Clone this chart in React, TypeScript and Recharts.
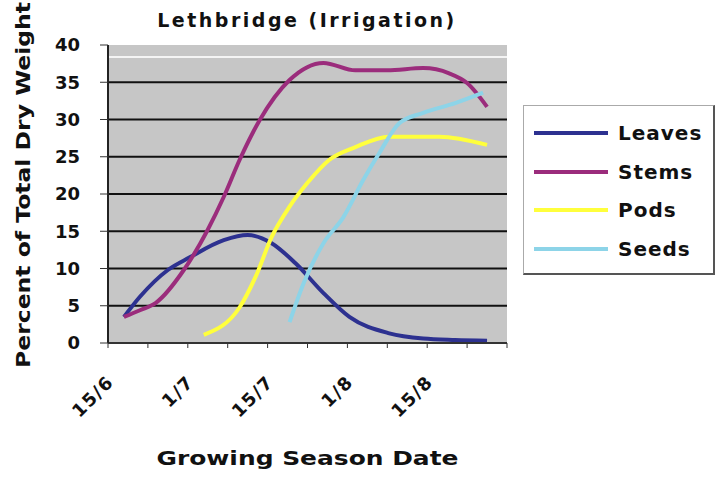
import React from 'react';
import {
	LineChart,
	Line,
	XAxis,
	YAxis,
	CartesianGrid,
	ReferenceLine,
} from 'recharts';

// axis setup
const dateLabels = ['15/6', '1/7', '15/7', '1/8', '15/8'];
const xTicks = [0, 1, 2, 3, 4, 5, 6, 7, 8, 9, 10];
const yTicks = [0, 5, 10, 15, 20, 25, 30, 35, 40];
const gridLevels = [5, 10, 15, 20, 25, 30, 35];
const upperMark = 38.4;

// percent of total dry weight, by position along the season axis
const leavesX = [0.4, 0.8, 1.5, 2.05, 2.9, 3.5, 4.1, 4.7, 5.4, 6.05, 7.05, 7.9, 8.7, 9.5];
const leavesPct = [3.5, 6.2, 9.8, 11.5, 13.8, 14.5, 13.4, 10.7, 6.7, 3.5, 1.3, 0.6, 0.4, 0.3];

const stemsX = [0.4, 0.8, 1.2, 1.9, 2.5, 2.9, 3.3, 3.8, 4.55, 5.4, 6.2, 7.0, 7.9, 8.55, 9.0, 9.5];
const stemsPct = [3.5, 4.4, 5.4, 9.8, 15.2, 19.6, 24.6, 29.9, 35.3, 37.6, 36.6, 36.6, 36.9, 36.2, 34.9, 31.7];

const podsX = [2.4, 3.3, 3.7, 4.1, 4.55, 5.0, 5.55, 6.2, 7.05, 8.3, 9.5];
const podsPct = [1.1, 4.8, 8.9, 14.2, 18.3, 21.5, 24.6, 26.3, 27.7, 27.7, 26.6];

const seedsX = [4.55, 4.9, 5.4, 5.9, 6.4, 6.8, 7.3, 7.9, 8.7, 9.4];
const seedsPct = [2.8, 8.0, 13.4, 16.9, 21.9, 25.5, 29.5, 30.9, 32.2, 33.6];

const zip = (xs: number[], ys: number[]) => xs.map((x, i) => ({ x, v: ys[i] }));

const series = [
	{ name: 'Leaves', color: '#2d3190', data: zip(leavesX, leavesPct) },
	{ name: 'Stems', color: '#9b2c7c', data: zip(stemsX, stemsPct) },
	{ name: 'Pods', color: '#ffff3c', data: zip(podsX, podsPct) },
	{ name: 'Seeds', color: '#8dd4e8', data: zip(seedsX, seedsPct) },
];

const FONT = 'DejaVu Sans';

const XTick = (props: any) => {
	const { x, y, payload } = props;
	const idx = payload.value / 2;
	if (!Number.isInteger(idx) || !dateLabels[idx]) return null;
	return (
		<text
			transform={`translate(${x + 7},${y + 35}) rotate(-45)`}
			textAnchor='end'
			fontFamily={FONT}
			fontWeight={700}
			fontSize={18}
			letterSpacing={1.5}
			fill='#111'
		>
			{dateLabels[idx]}
		</text>
	);
};

const YTitle = (props: any) => {
	const { viewBox } = props;
	const cx = 30;
	const cy = viewBox.y + viewBox.height / 2 - 9;
	return (
		<text
			x={cx}
			y={cy}
			transform={`rotate(-90, ${cx}, ${cy})`}
			textAnchor='middle'
			fontFamily={FONT}
			fontWeight={700}
			fontSize={19}
			textLength={366}
			lengthAdjust='spacingAndGlyphs'
			fill='#111'
		>
			Percent of Total Dry Weight
		</text>
	);
};

const XTitle = (props: any) => {
	const { viewBox } = props;
	return (
		<text
			x={viewBox.x + viewBox.width / 2}
			y={viewBox.y + 122}
			textAnchor='middle'
			fontFamily={FONT}
			fontWeight={700}
			fontSize={19}
			textLength={302}
			lengthAdjust='spacingAndGlyphs'
			fill='#111'
		>
			Growing Season Date
		</text>
	);
};

const App = () => {
	return (
		<div style={{ position: 'absolute', left: 0, top: 0, width: 720, height: 482, background: '#fff' }}>
			<div
				style={{
					position: 'absolute',
					left: 0,
					top: 9,
					width: 614,
					textAlign: 'center',
					fontFamily: FONT,
					fontWeight: 700,
					fontSize: 19,
					lineHeight: '22px',
					letterSpacing: 2.5,
					color: '#111',
				}}
			>
				Lethbridge (Irrigation)
			</div>
			<LineChart width={720} height={482} margin={{ top: 45, right: 213, bottom: 0, left: 0 }}>
				<CartesianGrid
					vertical={false}
					horizontalValues={gridLevels}
					stroke='#111'
					strokeWidth={2}
					fill='#c6c6c6'
					fillOpacity={1}
				/>
				<XAxis
					dataKey='x'
					type='number'
					domain={[0, 10]}
					ticks={xTicks}
					interval={0}
					height={139}
					tickSize={5}
					tickMargin={0}
					tick={<XTick />}
					axisLine={{ stroke: '#333', strokeWidth: 2 }}
					tickLine={{ stroke: '#333' }}
					allowDataOverflow
					label={<XTitle />}
				/>
				<YAxis
					type='number'
					domain={[0, 40]}
					ticks={yTicks}
					interval={0}
					width={108}
					tickSize={8}
					tickMargin={20}
					tick={{ fill: '#111', fontSize: 18, fontWeight: 700, fontFamily: FONT }}
					axisLine={{ stroke: '#222', strokeWidth: 2 }}
					tickLine={{ stroke: '#333' }}
					label={<YTitle />}
				/>
				<ReferenceLine y={upperMark} stroke='#f4f4f4' strokeWidth={2} />
				{series.map(s => (
					<Line
						key={s.name}
						data={s.data}
						dataKey='v'
						name={s.name}
						type='monotone'
						stroke={s.color}
						strokeWidth={4}
						dot={false}
						isAnimationActive={false}
					/>
				))}
			</LineChart>
			<div
				style={{
					position: 'absolute',
					left: 523,
					top: 105,
					width: 192,
					height: 170,
					background: '#fff',
					borderTop: '1px solid #aaa',
					borderLeft: '1px solid #aaa',
					borderRight: '2px solid #555',
					borderBottom: '2px solid #555',
					paddingTop: 8,
					boxSizing: 'border-box',
				}}
			>
				{series.map(s => (
					<div key={s.name} style={{ height: 38.5, display: 'flex', alignItems: 'center' }}>
						<div style={{ marginLeft: 10, width: 74, height: 4, background: s.color }} />
						<span
							style={{
								marginLeft: 10,
								fontFamily: FONT,
								fontWeight: 700,
								fontSize: 20,
								letterSpacing: 1,
								color: '#111',
							}}
						>
							{s.name}
						</span>
					</div>
				))}
			</div>
		</div>
	);
};

export default App;
